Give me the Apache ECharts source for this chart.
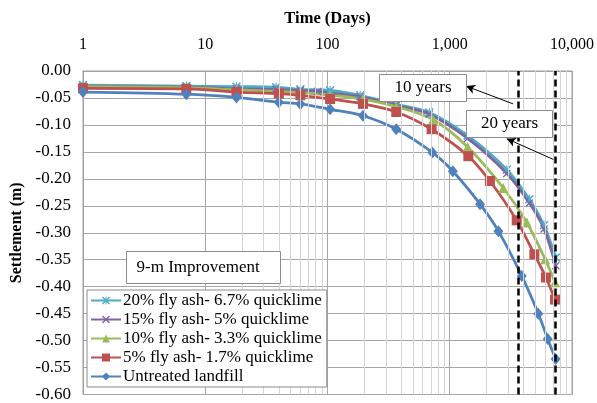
<!DOCTYPE html>
<html>
<head>
<meta charset="utf-8">
<script src="https://cdn.jsdelivr.net/npm/echarts@6/dist/echarts.min.js"></script>
<style>
  html, body { margin: 0; padding: 0; background: #fff; }
  #chart { width: 597px; height: 403px; }
</style>
</head>
<body>
<div id="chart"></div>
<script>
// series names (legend order)
const seriesNames = [
  '20% fly ash- 6.7% quicklime',
  '15% fly ash- 5% quicklime',
  '10% fly ash- 3.3% quicklime',
  '5% fly ash- 1.7% quicklime',
  'Untreated landfill'
]

// time in days / settlement in m
const cyanDays = [1, 7, 18, 38, 60, 105, 185, 365, 680, 1400, 2930, 4480, 5900, 7370]
const cyanSettle = [-0.026, -0.028, -0.029, -0.030, -0.034, -0.036, -0.045, -0.062, -0.077, -0.120, -0.183, -0.238, -0.286, -0.346]

const purpleDays = [1, 7, 18, 38, 60, 83, 185, 365, 680, 1400, 2930, 4480, 5900, 7370]
const purpleSettle = [-0.028, -0.030, -0.033, -0.034, -0.036, -0.038, -0.048, -0.064, -0.080, -0.125, -0.190, -0.245, -0.293, -0.361]

const greenDays = [1, 7, 18, 40, 60, 105, 195, 365, 730, 1400, 2740, 4270, 6020, 7260]
const greenSettle = [-0.029, -0.031, -0.035, -0.038, -0.040, -0.045, -0.052, -0.066, -0.090, -0.141, -0.217, -0.281, -0.349, -0.392]

const redDays = [1, 7, 18, 40, 60, 105, 195, 365, 710, 1420, 2130, 3530, 4920, 6120, 7260]
const redSettle = [-0.032, -0.033, -0.039, -0.042, -0.045, -0.052, -0.061, -0.076, -0.108, -0.158, -0.204, -0.277, -0.340, -0.383, -0.424]

const untreatedDays = [1, 7, 18, 40, 60, 105, 195, 365, 720, 1060, 1770, 2500, 3880, 5300, 6330, 7350]
const untreatedSettle = [-0.039, -0.043, -0.049, -0.058, -0.061, -0.071, -0.083, -0.108, -0.151, -0.186, -0.247, -0.297, -0.380, -0.450, -0.497, -0.534]

// minor vertical grid lines (days)
const minorGridDays = [20, 30, 40, 50, 60, 70, 80, 90,
  200, 300, 400, 500, 600, 700, 800, 900,
  2000, 3000, 4000, 5000, 6000, 7000, 8000, 9000]

// 10 and 20 years in days
const yearLines = [3650, 7300]

const FONT = '"Liberation Serif", "Times New Roman", serif'
const X_MARK = 'path://M0,1.2 L1.2,0 L5,3.8 L8.8,0 L10,1.2 L6.2,5 L10,8.8 L8.8,10 L5,6.2 L1.2,10 L0,8.8 L3.8,5 Z'
const STAR_MARK = 'path://M0,1.2 L1.2,0 L5,3.8 L8.8,0 L10,1.2 L6.2,5 L10,8.8 L8.8,10 L5,6.2 L1.2,10 L0,8.8 L3.8,5 Z M4.4,0 L5.6,0 L5.6,10 L4.4,10 Z'

function zip(days, vals) {
  return days.map((d, i) => [d, vals[i]])
}

function lineSeries(name, color, data, symbol, size) {
  return {
    name: name,
    type: 'line',
    data: data,
    smooth: 0.3,
    symbol: symbol,
    symbolSize: size,
    lineStyle: { color: color, width: 2.75 },
    itemStyle: { color: color },
    z: 3
  }
}

function box(x, y, w, h, text, align) {
  return {
    type: 'group',
    left: x,
    top: y,
    z: 100,
    children: [
      {
        type: 'rect',
        shape: { x: 0, y: 0, width: w, height: h },
        style: { fill: '#fff', stroke: '#8c8c8c', lineWidth: 1 },
        z: 100
      },
      {
        type: 'text',
        x: align === 'left' ? 10 : w / 2,
        y: h / 2,
        style: {
          text: text,
          font: '17px ' + FONT,
          fill: '#000',
          align: align === 'left' ? 'left' : 'center',
          verticalAlign: 'middle'
        },
        z: 101
      }
    ]
  }
}

const chart = echarts.init(document.getElementById('chart'))

const option = {
  animation: false,
  backgroundColor: '#fff',
  textStyle: { fontFamily: FONT },
  grid: {
    left: 83,
    right: 25,
    top: 71,
    bottom: 7,
    show: true,
    borderColor: '#a0a0a0',
    borderWidth: 1
  },
  legend: {
    data: seriesNames,
    orient: 'vertical',
    left: 87,
    top: 290,
    padding: [2, 5, 2, 3],
    itemGap: 2,
    itemWidth: 30,
    itemHeight: 10,
    backgroundColor: '#fff',
    borderColor: '#8c8c8c',
    borderWidth: 1,
    textStyle: { fontFamily: FONT, fontSize: 17, color: '#000', padding: [0, 0, 0, -3] },
    z: 50
  },
  xAxis: {
    type: 'log',
    logBase: 10,
    min: 1,
    max: 10000,
    position: 'top',
    name: 'Time (Days)',
    nameLocation: 'middle',
    nameGap: 44,
    nameTextStyle: { fontFamily: FONT, fontSize: 16.5, fontWeight: 'bold', color: '#000' },
    axisLine: { show: true, lineStyle: { color: '#a0a0a0' } },
    axisTick: { show: false },
    axisLabel: {
      margin: 18,
      fontFamily: FONT,
      fontSize: 16,
      color: '#000',
      formatter: v => String(Math.round(v)).replace(/\B(?=(\d{3})+(?!\d))/g, ',')
    },
    splitLine: { show: true, lineStyle: { color: '#a6a6a6', width: 1 } }
  },
  yAxis: {
    type: 'value',
    min: -0.6,
    max: 0,
    interval: 0.05,
    name: 'Settlement (m)',
    nameLocation: 'middle',
    nameGap: 58,
    nameTextStyle: { fontFamily: FONT, fontSize: 16, fontWeight: 'bold', color: '#000' },
    axisLine: { show: true, lineStyle: { color: '#a0a0a0' } },
    axisTick: { show: false },
    axisLabel: {
      margin: 12,
      fontFamily: FONT,
      fontSize: 17,
      color: '#000',
      formatter: v => (Math.abs(v) < 1e-9 ? 0 : v).toFixed(2)
    },
    splitLine: { show: true, lineStyle: { color: '#a6a6a6', width: 1 } }
  },
  series: [
    {
      name: 'gridlines',
      type: 'line',
      data: [],
      z: 1,
      markLine: {
        silent: true,
        symbol: 'none',
        label: { show: false },
        lineStyle: { color: '#d4d4d4', width: 1, type: 'solid' },
        data: minorGridDays.map(d => ({ xAxis: d }))
      }
    },
    lineSeries(seriesNames[0], '#4BACC6', zip(cyanDays, cyanSettle), STAR_MARK, 9),
    lineSeries(seriesNames[1], '#8064A2', zip(purpleDays, purpleSettle), X_MARK, 8),
    lineSeries(seriesNames[2], '#9BBB59', zip(greenDays, greenSettle), 'triangle', 10),
    lineSeries(seriesNames[3], '#C0504D', zip(redDays, redSettle), 'rect', 10),
    lineSeries(seriesNames[4], '#4F81BD', zip(untreatedDays, untreatedSettle), 'diamond', [10, 12]),
    {
      name: 'years',
      type: 'line',
      data: [],
      z: 5,
      markLine: {
        silent: true,
        symbol: 'none',
        label: { show: false },
        lineStyle: { color: '#000', width: 2.5, type: [7, 4] },
        data: yearLines.map(d => ({ xAxis: d }))
      }
    },
    {
      name: 'arrows',
      type: 'line',
      data: [],
      z: 6,
      markLine: {
        silent: true,
        symbol: ['none', 'arrow'],
        symbolSize: [7, 9],
        label: { show: false },
        lineStyle: { color: '#000', width: 1, type: 'solid' },
        data: [
          [{ coord: [3300, -0.061] }, { coord: [1360, -0.028] }],
          [{ coord: [7030, -0.164] }, { coord: [2925, -0.1255] }]
        ]
      }
    }
  ],
  graphic: [
    box(379, 74, 87, 27, '10 years'),
    box(466, 110, 86, 27, '20 years'),
    box(126, 251, 154, 32, '9-m Improvement', 'left')
  ]
}

chart.setOption(option)
window.addEventListener('resize', () => chart.resize())
</script>
</body>
</html>
